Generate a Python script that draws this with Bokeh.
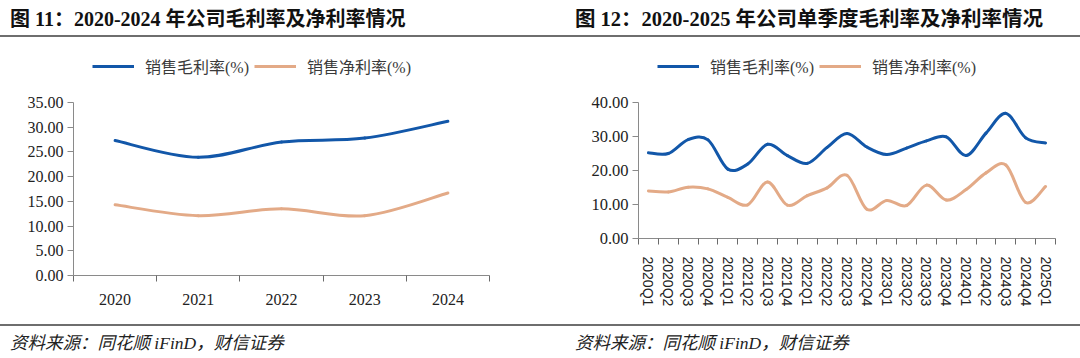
from bokeh.plotting import figure
from bokeh.models import (Div, FixedTicker, Legend, LegendItem, NumeralTickFormatter, Range1d)
from bokeh.layouts import row, column
from bokeh.embed import file_html
from bokeh.resources import INLINE

# ---------------- data ----------------
years = ["2020", "2021", "2022", "2023", "2024"]
annual_gross = [27.3, 23.9, 27.0, 27.8, 31.2]
annual_net = [14.3, 12.1, 13.5, 12.1, 16.7]

quarters = ["2020Q1", "2020Q2", "2020Q3", "2020Q4", "2021Q1", "2021Q2", "2021Q3",
            "2021Q4", "2022Q1", "2022Q2", "2022Q3", "2022Q4", "2023Q1", "2023Q2",
            "2023Q3", "2023Q4", "2024Q1", "2024Q2", "2024Q3", "2024Q4", "2025Q1"]
q_gross = [25.2, 25.0, 29.1, 29.0, 20.4, 21.9, 27.7, 24.4, 22.1, 26.8, 30.9, 26.9,
           24.7, 26.6, 28.7, 29.9, 24.4, 31.0, 36.8, 29.6, 28.1]
q_net = [14.0, 13.7, 15.1, 14.6, 12.1, 9.9, 16.6, 9.8, 12.6, 14.9, 18.6, 8.6,
         11.2, 9.7, 15.7, 11.3, 14.4, 19.3, 21.6, 10.6, 15.3]

legend_labels = ["销售毛利率(%)", "销售净利率(%)"]
title_left = "图 11：2020-2024 年公司毛利率及净利率情况"
title_right = "图 12：2020-2025 年公司单季度毛利率及净利率情况"
source_text = "资料来源：同花顺 iFinD，财信证券"

BLUE = "#1257A9"
ORANGE = "#E3AA87"
AXIS = "#8a8a8a"
LEG_FONT = "Liberation Serif, Noto Sans CJK SC"

W = 540
FIG_H = 287
TOP = 10  # frame top border (legend lives inside the frame, above the axis range)


def smooth_segments(ys):
    n = len(ys)
    xs = list(range(n))
    out = dict(x0=[], y0=[], x1=[], y1=[], cx0=[], cy0=[], cx1=[], cy1=[])
    for i in range(n - 1):
        p0 = i - 1 if i > 0 else i
        p3 = i + 2 if i + 2 < n else i + 1
        out["x0"].append(xs[i]); out["y0"].append(ys[i])
        out["x1"].append(xs[i + 1]); out["y1"].append(ys[i + 1])
        out["cx0"].append(xs[i] + (xs[i + 1] - xs[p0]) / 6)
        out["cy0"].append(ys[i] + (ys[i + 1] - ys[p0]) / 6)
        out["cx1"].append(xs[i + 1] - (xs[p3] - xs[i]) / 6)
        out["cy1"].append(ys[i + 1] - (ys[p3] - ys[i]) / 6)
    return out


def make_panel(cats, gross, net, ymax, ystep, axis_px, bl, br, bb, xfont, xsize, ysize,
               xorient, xstandoff, leg_x, leg_top):
    n = len(cats)
    frame_h = FIG_H - TOP - bb
    y_end = ymax * frame_h / axis_px
    p = figure(width=W, height=FIG_H, output_backend="svg", toolbar_location=None,
               x_range=Range1d(-0.5, n - 0.5), y_range=Range1d(0, y_end),
               min_border_left=bl, min_border_right=br, min_border_top=TOP,
               min_border_bottom=bb, outline_line_color=None,
               background_fill_color=None, border_fill_color=None)
    p.grid.visible = False
    items = []
    for ys, col, lab in ((gross, BLUE, legend_labels[0]), (net, ORANGE, legend_labels[1])):
        seg = smooth_segments(ys)
        p.bezier(x0=seg["x0"], y0=seg["y0"], x1=seg["x1"], y1=seg["y1"],
                 cx0=seg["cx0"], cy0=seg["cy0"], cx1=seg["cx1"], cy1=seg["cy1"],
                 line_color=col, line_width=3, line_cap="round")
        proxy = p.line(x=[0], y=[ys[0]], line_color=col, line_width=3)
        items.append(LegendItem(label=lab, renderers=[proxy]))
    xa = p.xaxis[0]
    xa.ticker = FixedTicker(ticks=list(range(n)), minor_ticks=[i - 0.5 for i in range(n + 1)])
    xa.major_label_overrides = {i: c for i, c in enumerate(cats)}
    xa.major_tick_out = 0
    xa.major_tick_in = 0
    xa.minor_tick_out = 6
    xa.minor_tick_in = 0
    xa.minor_tick_line_color = "#6a6a6a"
    xa.minor_tick_line_width = 1
    xa.axis_line_color = AXIS
    xa.major_label_text_font = xfont
    xa.major_label_text_font_size = xsize
    xa.major_label_text_color = "#222222"
    xa.major_label_standoff = xstandoff
    if xorient is not None:
        xa.major_label_orientation = xorient
    ya = p.yaxis[0]
    ya.bounds = (0, ymax)
    ya.ticker = FixedTicker(ticks=[i * ystep for i in range(int(ymax / ystep) + 1)], minor_ticks=[])
    ya.formatter = NumeralTickFormatter(format="0.00")
    ya.major_tick_out = 6
    ya.major_tick_in = 0
    ya.major_tick_line_color = AXIS
    ya.axis_line_color = AXIS
    ya.minor_tick_line_color = None
    ya.major_label_text_font = "Liberation Serif"
    ya.major_label_text_font_size = ysize
    ya.major_label_text_color = "#222222"
    ya.major_label_standoff = 4

    # legend location: (x from frame left, y of legend bottom from frame bottom)
    leg_h = 20
    leg = Legend(items=items, location=(leg_x, frame_h + TOP - leg_top - leg_h),
                 orientation="horizontal",
                 border_line_color=None, background_fill_alpha=0, padding=0, margin=0,
                 spacing=5, glyph_width=42, glyph_height=16, label_height=leg_h,
                 label_standoff=11, label_text_font=LEG_FONT,
                 label_text_font_size="16px", label_text_color="#3a3a3a")
    p.add_layout(leg, "center")
    return p


def title_div(text, pad, size):
    html = (f'<div style="width:{W}px;height:37px;box-sizing:border-box;'
            f'border-bottom:2px solid #6e6e6e;padding-left:{pad}px;padding-top:8px;'
            f"font-family:'Liberation Serif','Noto Sans CJK SC';font-weight:bold;"
            f'font-size:{size}px;line-height:22px;color:#111;white-space:nowrap;">{text}</div>')
    return Div(text=html, width=W, height=37, margin=(0, 0, 0, 0))


def foot_div(text, pad):
    html = (f'<div style="width:{W}px;height:34px;box-sizing:border-box;'
            f'border-top:2px solid #6e6e6e;padding-left:{pad}px;padding-top:7px;'
            f"font-family:'Liberation Serif','Noto Sans CJK SC';font-style:italic;"
            f'font-size:17.5px;line-height:20px;color:#222;white-space:nowrap;">{text}</div>')
    return Div(text=html, width=W, height=34, margin=(0, 0, 0, 0))


# leg_top: distance in px from figure top to legend top
p1 = make_panel(years, annual_gross, annual_net, 35, 5, 173, 73, 51, 49,
                "Liberation Serif", "16px", "16px", None, 12, 19, 21)
p2 = make_panel(quarters, q_gross, q_net, 40, 10, 136, 98, 25, 86,
                "Liberation Sans", "14px", "16.5px", "vertical", 12, 19, 21)

left = column(title_div(title_left, 10, 20), p1, foot_div(source_text, 10), spacing=0)
right = column(title_div(title_right, 35, 20.5), p2, foot_div(source_text, 35), spacing=0)
page = row(left, right, spacing=0)

open("out.html", "w").write(file_html(page, INLINE))
